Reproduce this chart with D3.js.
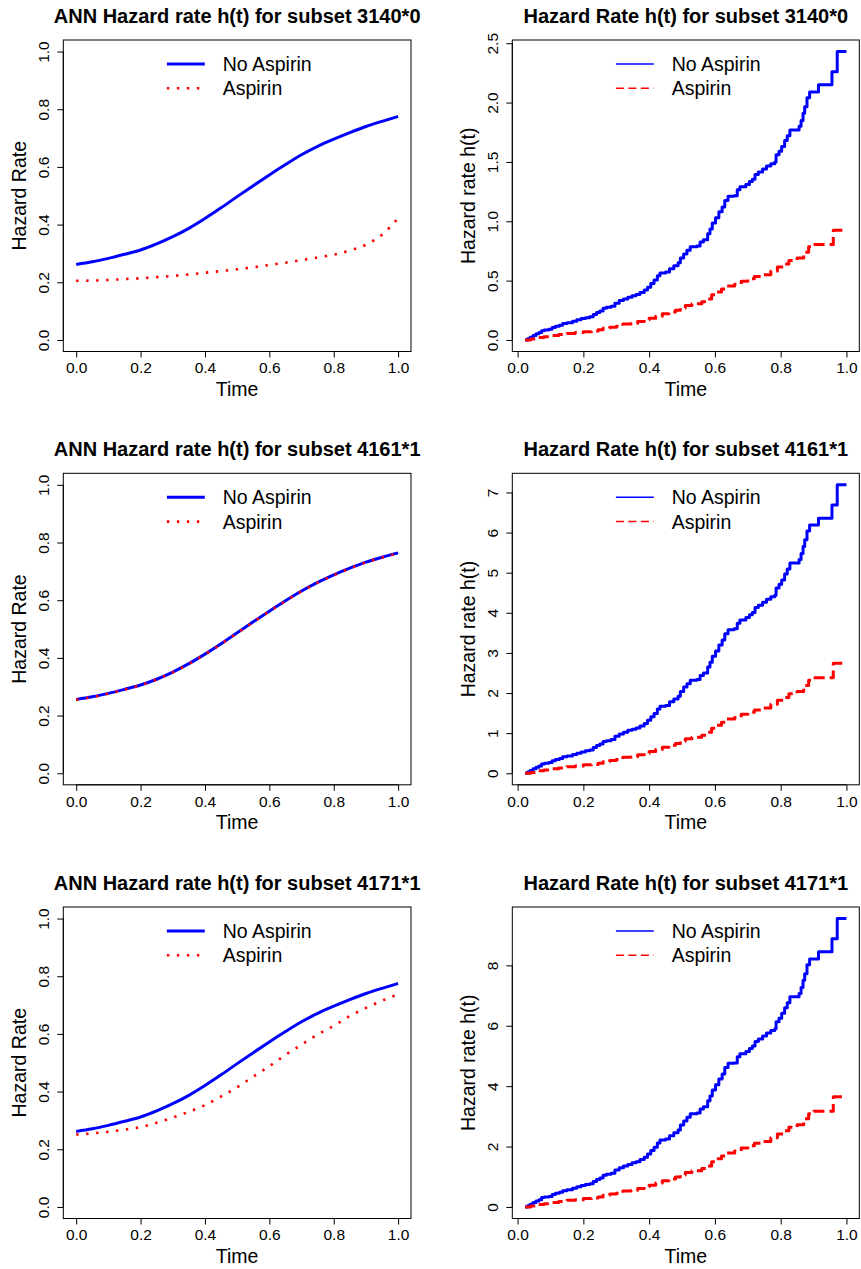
<!DOCTYPE html>
<html>
<head>
<meta charset="utf-8">
<script src="https://cdn.jsdelivr.net/npm/d3@7"></script>
<style>
  html, body { margin: 0; padding: 0; background: #fff; }
  svg { display: block; }
  text { font-family: "Liberation Sans", Arial, Helvetica, sans-serif; fill: #000; }
</style>
</head>
<body>
<svg id="chart" width="861" height="1269"></svg>
<script>
// ---------------- DATA ----------------
const titlesAnn = ["ANN Hazard rate h(t) for subset 3140*0", "ANN Hazard rate h(t) for subset 4161*1", "ANN Hazard rate h(t) for subset 4171*1"];
const titlesKm = ["Hazard Rate h(t) for subset 3140*0", "Hazard Rate h(t) for subset 4161*1", "Hazard Rate h(t) for subset 4171*1"];
const legendLabels = ["No Aspirin", "Aspirin"];
const xLabel = "Time";
const yLabelAnn = "Hazard Rate";
const yLabelKm = "Hazard rate h(t)";

const annTime = [0, 0.05, 0.1, 0.15, 0.2, 0.25, 0.3, 0.35, 0.4, 0.45, 0.5, 0.55, 0.6, 0.65, 0.7, 0.75, 0.8, 0.85, 0.9, 0.95, 1.0];
const ann3140No  = [0.262, 0.271, 0.283, 0.297, 0.312, 0.333, 0.358, 0.387, 0.421, 0.458, 0.497, 0.535, 0.572, 0.608, 0.642, 0.671, 0.696, 0.719, 0.740, 0.758, 0.775];
const ann3140Asp = [0.205, 0.206, 0.208, 0.211, 0.214, 0.218, 0.222, 0.227, 0.233, 0.239, 0.245, 0.252, 0.260, 0.268, 0.277, 0.286, 0.296, 0.310, 0.330, 0.365, 0.422];
const ann4161No  = [0.256, 0.265, 0.277, 0.291, 0.306, 0.326, 0.351, 0.380, 0.413, 0.449, 0.487, 0.525, 0.562, 0.598, 0.632, 0.662, 0.688, 0.711, 0.732, 0.749, 0.764];
const ann4161Asp = [0.255, 0.264, 0.276, 0.290, 0.305, 0.325, 0.350, 0.379, 0.412, 0.448, 0.486, 0.524, 0.561, 0.597, 0.631, 0.661, 0.687, 0.710, 0.731, 0.748, 0.763];
const ann4171No  = [0.262, 0.271, 0.283, 0.297, 0.312, 0.333, 0.358, 0.387, 0.421, 0.458, 0.497, 0.535, 0.572, 0.608, 0.642, 0.671, 0.696, 0.719, 0.740, 0.758, 0.775];
const ann4171Asp = [0.251, 0.255, 0.261, 0.268, 0.277, 0.292, 0.310, 0.330, 0.353, 0.383, 0.415, 0.452, 0.488, 0.527, 0.563, 0.598, 0.628, 0.662, 0.690, 0.715, 0.737];

const stepTimeNo = [0.023, 0.030, 0.038, 0.047, 0.056, 0.065, 0.073, 0.081, 0.095, 0.105, 0.115, 0.127, 0.137, 0.150, 0.167, 0.180, 0.193, 0.206, 0.219, 0.230, 0.240, 0.250, 0.260, 0.270, 0.284, 0.296, 0.309, 0.322, 0.335, 0.348, 0.360, 0.372, 0.385, 0.395, 0.405, 0.415, 0.425, 0.433, 0.450, 0.462, 0.475, 0.488, 0.495, 0.505, 0.515, 0.525, 0.545, 0.555, 0.565, 0.578, 0.585, 0.592, 0.602, 0.612, 0.622, 0.630, 0.640, 0.658, 0.668, 0.676, 0.694, 0.705, 0.714, 0.722, 0.732, 0.745, 0.757, 0.770, 0.782, 0.786, 0.795, 0.803, 0.812, 0.820, 0.828, 0.856, 0.862, 0.868, 0.873, 0.880, 0.888, 0.915, 0.956, 0.972, 1.000];
const km3140No = [0.000, 0.010, 0.022, 0.038, 0.052, 0.062, 0.078, 0.084, 0.090, 0.105, 0.115, 0.125, 0.138, 0.145, 0.158, 0.170, 0.180, 0.188, 0.196, 0.215, 0.232, 0.245, 0.268, 0.275, 0.285, 0.310, 0.332, 0.345, 0.360, 0.372, 0.382, 0.400, 0.420, 0.445, 0.475, 0.505, 0.540, 0.565, 0.572, 0.600, 0.625, 0.650, 0.690, 0.725, 0.755, 0.785, 0.792, 0.825, 0.845, 0.895, 0.935, 0.985, 1.030, 1.080, 1.120, 1.175, 1.210, 1.215, 1.265, 1.290, 1.310, 1.335, 1.355, 1.395, 1.415, 1.440, 1.465, 1.485, 1.500, 1.560, 1.590, 1.630, 1.680, 1.720, 1.770, 1.800, 1.850, 1.910, 1.965, 2.040, 2.090, 2.150, 2.260, 2.430, 2.430];
const km4161No = [0.00, 0.03, 0.07, 0.11, 0.15, 0.18, 0.23, 0.25, 0.27, 0.31, 0.34, 0.37, 0.41, 0.43, 0.47, 0.50, 0.53, 0.56, 0.58, 0.64, 0.69, 0.73, 0.79, 0.81, 0.84, 0.92, 0.98, 1.02, 1.07, 1.10, 1.13, 1.18, 1.24, 1.32, 1.41, 1.49, 1.60, 1.67, 1.69, 1.78, 1.85, 1.92, 2.04, 2.15, 2.23, 2.32, 2.34, 2.44, 2.50, 2.65, 2.77, 2.92, 3.05, 3.20, 3.32, 3.48, 3.58, 3.60, 3.74, 3.82, 3.88, 3.95, 4.01, 4.13, 4.19, 4.26, 4.34, 4.40, 4.44, 4.62, 4.71, 4.82, 4.97, 5.09, 5.24, 5.33, 5.48, 5.65, 5.82, 6.04, 6.19, 6.36, 6.69, 7.19, 7.19];
const km4171No = [0.00, 0.04, 0.09, 0.15, 0.20, 0.24, 0.31, 0.33, 0.35, 0.41, 0.45, 0.49, 0.54, 0.57, 0.62, 0.67, 0.71, 0.74, 0.77, 0.84, 0.91, 0.96, 1.05, 1.08, 1.12, 1.22, 1.30, 1.36, 1.41, 1.46, 1.50, 1.57, 1.65, 1.75, 1.87, 1.98, 2.12, 2.22, 2.25, 2.36, 2.46, 2.55, 2.71, 2.85, 2.97, 3.09, 3.11, 3.24, 3.32, 3.52, 3.67, 3.87, 4.05, 4.24, 4.40, 4.62, 4.76, 4.77, 4.97, 5.07, 5.15, 5.25, 5.33, 5.48, 5.56, 5.66, 5.76, 5.84, 5.90, 6.13, 6.25, 6.41, 6.60, 6.76, 6.96, 7.07, 7.27, 7.51, 7.72, 8.02, 8.21, 8.45, 8.88, 9.55, 9.55];

const stepTimeAsp = [0.023, 0.040, 0.060, 0.080, 0.100, 0.125, 0.150, 0.175, 0.200, 0.225, 0.245, 0.260, 0.280, 0.300, 0.320, 0.345, 0.365, 0.385, 0.400, 0.420, 0.440, 0.460, 0.480, 0.495, 0.510, 0.530, 0.560, 0.575, 0.590, 0.605, 0.620, 0.635, 0.660, 0.680, 0.700, 0.720, 0.745, 0.770, 0.790, 0.810, 0.825, 0.850, 0.870, 0.885, 0.900, 0.960, 1.000];
const km3140Asp = [0.000, 0.008, 0.020, 0.028, 0.038, 0.045, 0.055, 0.062, 0.070, 0.075, 0.085, 0.098, 0.108, 0.115, 0.135, 0.140, 0.155, 0.170, 0.182, 0.200, 0.220, 0.235, 0.250, 0.270, 0.290, 0.305, 0.322, 0.345, 0.380, 0.405, 0.430, 0.455, 0.470, 0.495, 0.515, 0.535, 0.550, 0.580, 0.615, 0.640, 0.670, 0.690, 0.740, 0.785, 0.805, 0.925, 0.925];
const km4161Asp = [0.00, 0.02, 0.06, 0.08, 0.11, 0.13, 0.16, 0.18, 0.21, 0.22, 0.25, 0.29, 0.32, 0.34, 0.40, 0.41, 0.46, 0.50, 0.54, 0.59, 0.65, 0.70, 0.74, 0.80, 0.86, 0.90, 0.95, 1.02, 1.12, 1.20, 1.27, 1.35, 1.39, 1.47, 1.52, 1.58, 1.63, 1.72, 1.82, 1.89, 1.98, 2.04, 2.19, 2.32, 2.38, 2.74, 2.74];
const km4171Asp = [0.00, 0.03, 0.08, 0.11, 0.15, 0.18, 0.22, 0.24, 0.28, 0.30, 0.33, 0.39, 0.43, 0.45, 0.53, 0.55, 0.61, 0.67, 0.72, 0.79, 0.87, 0.93, 0.99, 1.06, 1.14, 1.20, 1.27, 1.36, 1.50, 1.60, 1.69, 1.79, 1.85, 1.95, 2.03, 2.11, 2.17, 2.29, 2.42, 2.52, 2.64, 2.72, 2.92, 3.09, 3.17, 3.65, 3.65];

const xTicks = [0, 0.2, 0.4, 0.6, 0.8, 1.0];
const annYTicks = [0, 0.2, 0.4, 0.6, 0.8, 1.0];
const kmYTicks3140 = [0, 0.5, 1.0, 1.5, 2.0, 2.5];
const kmYTicks4161 = [0, 1, 2, 3, 4, 5, 6, 7];
const kmYTicks4171 = [0, 2, 4, 6, 8];

// ---------------- LAYOUT ----------------
const svg = d3.select("#chart");
const BLUE = "#0000FF", RED = "#FF0000";
const rowTop = [40, 473.3, 907];
const boxH = 311.5;
const leftBox = [63.3, 411];
const rightBox = [512.3, 859.3];

function pad4(ext) { const d = ext[1] - ext[0]; return [ext[0] - 0.04 * d, ext[1] + 0.04 * d]; }

function drawPanel(cfg) {
  const g = svg.append("g");
  const [bx0, bx1] = cfg.box;
  const by0 = cfg.top, by1 = cfg.top + boxH;
  const x = d3.scaleLinear().domain(cfg.xDomain).range([bx0, bx1]);
  const y = d3.scaleLinear().domain(cfg.yDomain).range([by1, by0]);

  // series
  cfg.series.forEach(s => {
    const pts = s.t.map((t, i) => [t, s.v[i]]);
    g.append("path")
      .attr("d", d3.line().x(d => x(d[0])).y(d => y(d[1])).curve(s.curve)(pts))
      .attr("fill", "none").attr("stroke", s.color).attr("stroke-width", s.width)
      .attr("stroke-dasharray", s.dash || null)
      .attr("stroke-linejoin", "round");
  });

  // box
  g.append("rect").attr("x", bx0).attr("y", by0).attr("width", bx1 - bx0).attr("height", by1 - by0)
    .attr("fill", "none").attr("stroke", "#000").attr("stroke-width", 1);

  // x axis
  const xa = g.append("g").attr("transform", `translate(0,${by1})`)
    .call(d3.axisBottom(x).tickValues(cfg.xTicks).tickSize(6).tickFormat(cfg.fmtX));
  xa.select(".domain").remove();
  xa.append("line").attr("x1", x(cfg.xTicks[0])).attr("x2", x(cfg.xTicks[cfg.xTicks.length - 1]))
    .attr("y1", 0).attr("y2", 0).attr("stroke", "#000");
  xa.selectAll(".tick line").attr("stroke", "#000");
  xa.selectAll(".tick text").attr("y", 21.8).attr("dy", null)
    .style("font-size", "15.5px").style("font-family", "Liberation Sans, Arial, sans-serif").attr("fill", "#000");

  // y axis
  const ya = g.append("g").attr("transform", `translate(${bx0},0)`)
    .call(d3.axisLeft(y).tickValues(cfg.yTicks).tickSize(6).tickFormat(cfg.fmtY));
  ya.select(".domain").remove();
  ya.append("line").attr("y1", y(cfg.yTicks[0])).attr("y2", y(cfg.yTicks[cfg.yTicks.length - 1]))
    .attr("x1", 0).attr("x2", 0).attr("stroke", "#000");
  ya.selectAll(".tick line").attr("stroke", "#000");
  ya.selectAll(".tick text").attr("x", null).attr("dy", null).attr("y", null)
    .attr("text-anchor", "middle")
    .attr("transform", "translate(-14.3,0) rotate(-90)")
    .style("font-size", "15.5px").style("font-family", "Liberation Sans, Arial, sans-serif").attr("fill", "#000");

  // title
  g.append("text").attr("x", (bx0 + bx1) / 2).attr("y", cfg.top - 17.3)
    .attr("text-anchor", "middle").style("font-size", "20px").style("font-weight", "bold").text(cfg.title);
  // axis labels
  g.append("text").attr("x", (bx0 + bx1) / 2).attr("y", by1 + 44.3)
    .attr("text-anchor", "middle").style("font-size", "19.5px").text(xLabel);
  g.append("text").attr("transform", `translate(${bx0 - 37.3},${(by0 + by1) / 2}) rotate(-90)`)
    .attr("text-anchor", "middle").style("font-size", "19.5px").text(cfg.ylab);

  // legend
  const lx0 = bx0 + 103.6, lx1 = bx0 + 141.5, tx = bx0 + 159.4;
  const ly = [by0 + 24, by0 + 48.3];
  cfg.legend.forEach((l, i) => {
    g.append("line").attr("x1", lx0).attr("x2", lx1).attr("y1", ly[i]).attr("y2", ly[i])
      .attr("stroke", l.color).attr("stroke-width", l.width).attr("stroke-dasharray", l.dash || null);
    g.append("text").attr("x", tx).attr("y", ly[i] + 7).style("font-size", "19.5px").text(legendLabels[i]);
  });
}

const annSets = [[ann3140No, ann3140Asp], [ann4161No, ann4161Asp], [ann4171No, ann4171Asp]];
const kmSets = [[km3140No, km3140Asp], [km4161No, km4161Asp], [km4171No, km4171Asp]];
const kmYTicks = [kmYTicks3140, kmYTicks4161, kmYTicks4171];
const kmFmt = [d3.format(".1f"), d3.format("d"), d3.format("d")];

for (let r = 0; r < 3; r++) {
  // left: ANN curves
  drawPanel({
    box: leftBox, top: rowTop[r],
    xDomain: pad4([0, 1]), yDomain: pad4([0, 1]),
    xTicks: xTicks, yTicks: annYTicks, fmtX: d3.format(".1f"), fmtY: d3.format(".1f"),
    title: titlesAnn[r], ylab: yLabelAnn,
    series: [
      { t: annTime, v: annSets[r][0], color: BLUE, width: 3, curve: d3.curveMonotoneX },
      { t: annTime, v: annSets[r][1], color: RED, width: 2.6, dash: "2.4,7.6", curve: d3.curveMonotoneX }
    ],
    legend: [{ color: BLUE, width: 3 }, { color: RED, width: 2.6, dash: "2.4,7.6" }]
  });
  // right: step hazards
  const allT = stepTimeNo.concat(stepTimeAsp);
  const allV = kmSets[r][0].concat(kmSets[r][1]);
  drawPanel({
    box: rightBox, top: rowTop[r],
    xDomain: pad4(d3.extent(allT)), yDomain: pad4(d3.extent(allV)),
    xTicks: xTicks, yTicks: kmYTicks[r], fmtX: d3.format(".1f"), fmtY: kmFmt[r],
    title: titlesKm[r], ylab: yLabelKm,
    series: [
      { t: stepTimeNo, v: kmSets[r][0], color: BLUE, width: 3, curve: d3.curveStepAfter },
      { t: stepTimeAsp, v: kmSets[r][1], color: RED, width: 3, dash: "11,5", curve: d3.curveStepAfter }
    ],
    legend: [{ color: BLUE, width: 1.5 }, { color: RED, width: 1.5, dash: "8,4.5" }]
  });
}
</script>
</body>
</html>
